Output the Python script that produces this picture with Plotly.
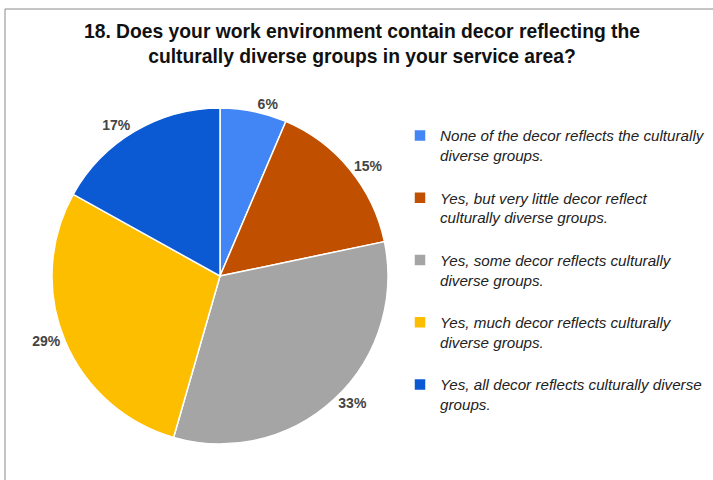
import plotly.graph_objects as go

# Data
categories = [
    "None of the decor reflects the culturally<br>diverse groups.",
    "Yes, but very little decor reflect<br>culturally diverse groups.",
    "Yes, some decor reflects culturally<br>diverse groups.",
    "Yes, much decor reflects culturally<br>diverse groups.",
    "Yes, all decor reflects culturally diverse<br>groups.",
]
values = [6.4, 15.3, 32.7, 28.6, 16.9]
colors = ["#4285F4", "#C05000", "#A5A5A5", "#FDBE00", "#0C59D4"]

W, H = 713, 480
cx, cy, r = 220, 276, 168

legend_labels = [c + "<br> " for c in categories]

fig = go.Figure(
    go.Pie(
        labels=legend_labels,
        values=values,
        sort=False,
        direction="clockwise",
        rotation=0,
        marker=dict(colors=colors, line=dict(color="white", width=1.5)),
        textposition="outside",
        texttemplate="%{value:.0f}%",
        outsidetextfont=dict(family="Liberation Sans", size=14, color="#444444", weight="bold"),
        hoverinfo="label+percent",
        domain=dict(x=[(cx - r) / W, (cx + r) / W], y=[(H - cy - r) / H, (H - cy + r) / H]),
    )
)

fig.update_layout(
    width=W,
    height=H,
    margin=dict(l=0, r=0, t=0, b=0),
    paper_bgcolor="white",
    plot_bgcolor="white",
    title=dict(
        text="18. Does your work environment contain decor reflecting the<br>culturally diverse groups in your service area?",
        x=362 / W,
        xanchor="center",
        y=1 - 38 / H,
        yanchor="middle",
        font=dict(family="Liberation Sans", size=19.3, color="#111111", weight="bold"),
    ),
    legend=dict(
        x=400 / W,
        xanchor="left",
        y=1 - 119 / H,
        yanchor="top",
        valign="top",
        font=dict(family="Liberation Sans", size=15.2, color="#222222", style="italic"),
        itemwidth=30,
        bgcolor="rgba(0,0,0,0)",
    ),
    shapes=[
        dict(type="line", xref="paper", yref="paper", x0=5 / W, x1=5 / W, y0=0, y1=1 - 9 / H,
             line=dict(color="#8a8a8a", width=1)),
        dict(type="line", xref="paper", yref="paper", x0=5 / W, x1=1, y0=1 - 9 / H, y1=1 - 9 / H,
             line=dict(color="#8a8a8a", width=1)),
    ],
)

fig.write_html(
    "out.html",
    config={"displayModeBar": False},
    post_script="document.body.style.margin='0';document.body.style.overflow='hidden';",
)
